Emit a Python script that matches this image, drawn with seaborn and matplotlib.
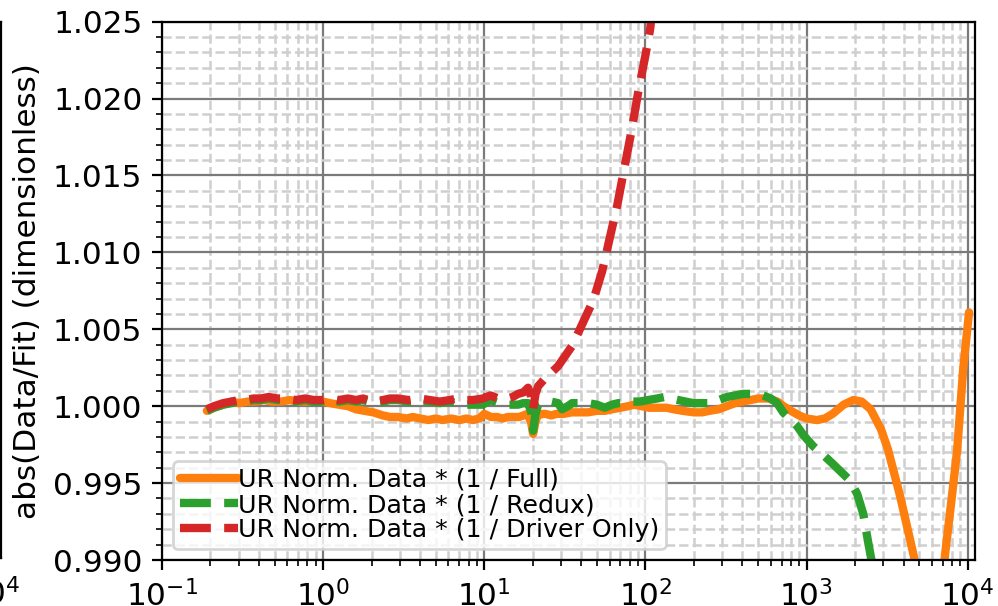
import numpy as np
import pandas as pd
import seaborn as sns
import matplotlib
matplotlib.use("Agg")
import matplotlib.pyplot as plt
import matplotlib.ticker as ticker

sns.set_style("ticks")
plt.rcParams['font.family'] = ['DejaVu Sans']
plt.rcParams['text.color'] = 'black'
plt.rcParams['axes.edgecolor'] = 'black'
plt.rcParams['axes.labelcolor'] = 'black'
plt.rcParams['xtick.color'] = 'black'
plt.rcParams['ytick.color'] = 'black'
plt.rcParams['font.size'] = 11.2

# frequency (x) and abs(Data/Fit) ratio for each fit
freq_full = [0.19, 0.21, 0.24, 0.27, 0.30, 0.34, 0.38, 0.43, 0.48, 0.55, 0.62, 0.70, 0.80, 0.90,
             1.0, 1.1, 1.25, 1.43, 1.6, 1.8, 2.05, 2.35, 2.6, 2.9, 3.3, 3.6, 4.0, 4.5, 5.0, 5.5,
             6.2, 7.0, 7.8, 8.5, 9.3, 10, 11, 12, 13, 14, 15.5, 16.5, 17.5, 18.5, 19.5, 20.1,
             20.8, 21.5, 23, 24, 26, 28, 31, 35, 39, 44, 50, 56, 62, 70, 78, 85, 95, 105, 120,
             135, 150, 170, 200, 225, 250, 285, 320, 360, 400, 450, 500, 580, 660, 720, 800,
             900, 1000, 1160, 1300, 1450, 1700, 1950, 2200, 2500, 2900, 3200, 3800, 4600, 5200,
             6000, 6700, 7250, 8000, 8600, 9380, 10200]
ratio_full = [0.9997, 0.9999, 1.0001, 1.0003, 1.0002, 1.0003, 1.0003, 1.0004, 1.0003, 1.0003,
              1.0004, 1.0003, 1.0003, 1.0004, 1.0003, 1.0002, 1.0001, 1.0000, 0.9998, 0.9997,
              0.9996, 0.9994, 0.9993, 0.9993, 0.9992, 0.9993, 0.9992, 0.9991, 0.9992, 0.9991,
              0.9992, 0.9991, 0.9992, 0.9991, 0.9992, 0.9995, 0.9993, 0.9993, 0.9992, 0.9993,
              0.9993, 0.9993, 0.9994, 0.9995, 0.9990, 0.9982, 0.9990, 0.9994, 0.9995, 0.9995,
              0.9994, 0.9995, 0.9995, 0.9996, 0.9996, 0.9996, 0.9997, 0.9997, 0.9998, 0.9999,
              1.0000, 1.0001, 1.0000, 0.9999, 0.9999, 0.9999, 0.9998, 0.9997, 0.9996, 0.9996,
              0.9997, 0.9998, 1.0000, 1.0002, 1.0003, 1.0004, 1.0005, 1.0005, 1.0003, 1.0000,
              0.9997, 0.9994, 0.9992, 0.9991, 0.9992, 0.9995, 1.0001, 1.0004, 1.0003, 0.9998,
              0.9985, 0.9972, 0.9942, 0.9904, 0.9878, 0.9862, 0.9868, 0.9904, 0.9942, 0.9971,
              1.0024, 1.0061]

freq_redux = [0.19, 0.21, 0.24, 0.27, 0.30, 0.33, 0.37, 0.41, 0.46, 0.52, 0.58, 0.68, 0.77, 0.88,
              0.98, 1.1, 1.25, 1.43, 1.6, 1.77, 2.05, 2.35, 2.6, 2.9, 3.4, 4.0, 4.6, 5.3, 6.1,
              6.8, 7.4, 8.5, 9.8, 10.9, 12.3, 13.9, 15, 16.2, 17.5, 18.7, 19.6, 20.1, 20.8, 21.6,
              23.8, 26, 28.7, 30.4, 33, 35.1, 40, 44.1, 50, 56, 62, 68, 75, 83, 92, 104, 118, 132,
              160, 198, 225, 252, 285, 321, 360, 404, 470, 538, 600, 657, 716, 800, 875, 960,
              1100, 1250, 1440, 1650, 1850, 2063, 2250, 2400, 2550, 2800, 3200]
ratio_redux = [0.9997, 0.9999, 1.0001, 1.0002, 1.0003, 1.0003, 1.0004, 1.0004, 1.0005, 1.0004,
               1.0004, 1.0003, 1.0004, 1.0003, 1.0003, 1.0004, 1.0003, 1.0004, 1.0003, 1.0004,
               1.0002, 1.0003, 1.0004, 1.0004, 1.0003, 1.0004, 1.0003, 1.0002, 1.0003,
               1.0002, 1.0001, 1.0001, 1.0001, 1.0004, 1.0002, 1.0001, 1.0001, 1.0001, 1.0002,
               1.0002, 0.9996, 0.9984, 0.9995, 1.0001, 1.0003, 1.0003, 1.0002, 0.9998, 1.0000,
               1.0002, 1.0002, 1.0002, 1.0001, 0.9999, 1.0001, 1.0002, 1.0002, 1.0003, 1.0003,
               1.0004, 1.0005, 1.0006, 1.0004, 1.0002, 1.0002, 1.0002, 1.0004, 1.0006, 1.0007,
               1.0008, 1.0008, 1.0007, 1.0005, 1.0002, 0.9996, 0.9991, 0.9987, 0.9981, 0.9974,
               0.9969, 0.9963, 0.9957, 0.9952, 0.9943, 0.9930, 0.9913, 0.9898, 0.9870, 0.9820]

freq_driver = [0.19, 0.21, 0.24, 0.27, 0.30, 0.33, 0.37, 0.41, 0.46, 0.52, 0.58, 0.68, 0.77, 0.88,
               0.98, 1.1, 1.25, 1.43, 1.6, 1.77, 2.05, 2.35, 2.6, 2.9, 3.4, 4.0, 4.6, 5.3, 6.1,
               6.8, 7.4, 8.5, 9.8, 10.9, 12.3, 13.9, 15, 16.2, 17.5, 18.7, 19.6, 20.1, 20.8, 21.6,
               23.8, 25, 28.7, 35, 40, 47.6, 54, 60.3, 67, 73.8, 82, 90.2, 100, 107, 120, 140]
ratio_driver = [0.9998, 1.0000, 1.0002, 1.0003, 1.0004, 1.0004, 1.0005, 1.0005, 1.0006, 1.0005,
                1.0005, 1.0004, 1.0005, 1.0004, 1.0004, 1.0005, 1.0004, 1.0005, 1.0004, 1.0005,
                1.0003, 1.0004, 1.0005, 1.0005, 1.0004, 1.0005, 1.0004, 1.0003, 1.0004,
                1.0005, 1.0004, 1.0004, 1.0005, 1.0007, 1.0005, 1.0005, 1.0006, 1.0008, 1.0009,
                1.0012, 1.0006, 0.9998, 1.0008, 1.0013, 1.0018, 1.0020, 1.0026, 1.0039, 1.0052,
                1.0069, 1.0088, 1.0110, 1.0131, 1.0154, 1.0179, 1.0204, 1.0228, 1.0245, 1.0290,
                1.0370]

labels = ["UR Norm. Data * (1 / Full)", "UR Norm. Data * (1 / Redux)",
          "UR Norm. Data * (1 / Driver Only)"]

fig = plt.figure(figsize=(4.99, 3.03), dpi=200)

# neighbouring panel, mostly outside the frame
ax0 = fig.add_axes([-0.8136, 0.0792, 0.8146, 0.885])
ax0.set_xscale('log')
ax0.set_xlim(0.1, 1.11e4)
ax0.set_ylim(0.990, 1.025)

ax = fig.add_axes([0.1623, 0.0759, 0.8146, 0.8883])

sns.lineplot(x=freq_full, y=ratio_full, ax=ax, color='#ff7f0e', lw=3, label=labels[0])
sns.lineplot(x=freq_redux, y=ratio_redux, ax=ax, color='#2ca02c', lw=3, ls='--', label=labels[1])
sns.lineplot(x=freq_driver, y=ratio_driver, ax=ax, color='#d62728', lw=3, ls='--', label=labels[2])

ax.set_xscale('log')
ax.set_xlim(0.1, 1.11e4)
ax.set_ylim(0.990, 1.025)
ax.yaxis.set_major_locator(ticker.MultipleLocator(0.005))
ax.yaxis.set_minor_locator(ticker.MultipleLocator(0.001))
ax.yaxis.set_major_formatter(ticker.FormatStrFormatter('%.3f'))
ax.xaxis.set_major_locator(ticker.LogLocator(base=10, numticks=12))
ax.xaxis.set_minor_locator(ticker.LogLocator(base=10, subs=np.arange(2, 10), numticks=12))
ax.xaxis.set_minor_formatter(ticker.NullFormatter())

ax.set_axisbelow(True)
ax.grid(which='major', color='#7a7a7a', lw=0.8, ls='-')
ax.grid(which='minor', color='#cfcfcf', lw=0.9, ls='--')
ax.tick_params(which='major', length=3.5, width=0.8, direction='out', labelsize=11.2)
ax.tick_params(which='minor', length=2, width=0.6, direction='out')
for s in ax.spines.values():
    s.set_linewidth(0.8)

ax.set_xlabel('')
ax.set_ylabel('abs(Data/Fit) (dimensionless)', fontsize=11.2)
ax.legend(loc='lower left', frameon=True, fontsize=9.1, labelspacing=0.05,
          handletextpad=0.0, handlelength=2.3, borderpad=0.25, borderaxespad=0.45)

fig.savefig('out.png', dpi=200)
